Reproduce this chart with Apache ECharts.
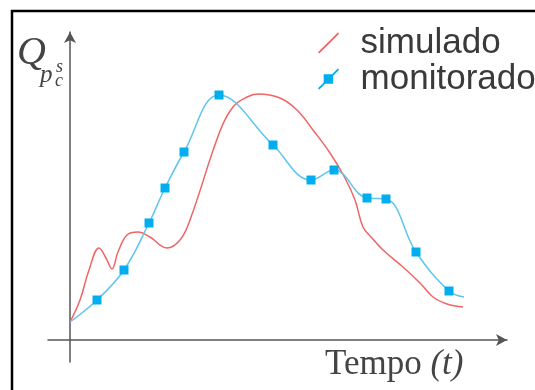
<!DOCTYPE html>
<html>
<head>
<meta charset="utf-8">
<script src="https://cdn.jsdelivr.net/npm/echarts@6/dist/echarts.min.js"></script>
<style>
html,body{margin:0;padding:0;background:#fff;}
#c{width:535px;height:390px;}
</style>
</head>
<body>
<div id="c"></div>
<script>
// Values (arbitrary units: time on x, Q on y)
const seriesNames = ['simulado', 'monitorado'];
const simT = [0, 10, 19, 29, 36, 42, 48, 57, 68, 80, 97, 110, 120, 150, 163, 177, 188, 210, 227, 243, 260, 275, 285, 293, 302, 313, 333, 350, 363, 377, 393];
const simQ = [18, 40, 70, 92, 82, 71, 88, 105, 108, 103, 92, 100, 120, 209, 233, 243, 246, 242, 230, 210, 187, 162, 140, 113, 102, 90, 73, 57, 43, 36, 33];
const monT = [0, 27, 54, 79, 95, 114, 149, 203, 241, 264, 297, 316, 346, 379, 394];
const monQ = [18, 40, 70, 117, 152, 188, 245, 195, 160, 170, 142, 141, 88, 49, 43];
// which monitored points are actual measurements (drawn with a marker)
const monMeasured = [false, true, true, true, true, true, true, true, true, true, true, true, true, true, false];

const chart = echarts.init(document.getElementById('c'), null, {renderer: 'canvas'});
const axisColor = '#555';
const redColor = '#f06464';
const blueLine = '#5cc6ee';
const blueMark = '#00aeef';

const option = {
  animation: false,
  backgroundColor: '#fff',
  grid: {left: 48, right: 28, top: 32, bottom: 28},
  xAxis: {
    type: 'value', min: -22, max: 437,
    axisLine: {show: true, onZero: true, symbol: ['none', 'arrow'], symbolSize: [9, 11],
      lineStyle: {color: axisColor, width: 1.5}},
    axisTick: {show: false}, axisLabel: {show: false}, splitLine: {show: false}
  },
  yAxis: {
    type: 'value', min: -22, max: 308,
    axisLine: {show: true, onZero: true, symbol: ['none', 'arrow'], symbolSize: [9, 11],
      lineStyle: {color: axisColor, width: 1.5}},
    axisTick: {show: false}, axisLabel: {show: false}, splitLine: {show: false}
  },
  legend: {
    orient: 'vertical', left: 313, top: 20, itemGap: 0,
    itemWidth: 22, itemHeight: 21,
    textStyle: {fontFamily: 'Liberation Sans, Arial, sans-serif', fontSize: 35, color: '#3a3a3a',
      padding: [0, 0, 0, 16], lineHeight: 36},
    data: [
      {name: seriesNames[0], icon: 'path://M0,21 L21,0 L22.4,1.2 L1.4,22.2 Z'},
      {name: seriesNames[1], icon: 'path://M0,21 L21,0 L22.4,1.2 L1.4,22.2 Z M6,6 L16,6 L16,16 L6,16 Z'}
    ]
  },
  series: [
    {
      name: seriesNames[0], type: 'line', smooth: 0.4, showSymbol: false, symbol: 'none',
      itemStyle: {color: redColor}, lineStyle: {color: redColor, width: 1.5},
      data: simT.map((t, i) => [t, simQ[i]])
    },
    {
      name: seriesNames[1], type: 'line', smooth: 0.4, symbol: 'rect', symbolSize: 9, showAllSymbol: true,
      itemStyle: {color: blueMark}, lineStyle: {color: blueLine, width: 1.5},
      data: monT.map((t, i) => monMeasured[i] ? [t, monQ[i]] : {value: [t, monQ[i]], symbol: 'none'})
    }
  ],
  graphic: [
    {type: 'polyline', shape: {points: [[12, 392], [12, 11], [537, 11]]},
      style: {stroke: '#000', lineWidth: 2.5, fill: null}},
    {type: 'text', left: 17, top: 33,
      style: {text: 'Q', font: 'italic 40px "Liberation Serif", "Times New Roman", serif', fill: '#444'}},
    {type: 'text', left: 40, top: 63,
      style: {text: 'p', font: 'italic 25px "Liberation Serif", "Times New Roman", serif', fill: '#444'}},
    {type: 'text', left: 56, top: 58,
      style: {text: 's', font: 'italic 18px "Liberation Serif", "Times New Roman", serif', fill: '#444'}},
    {type: 'text', left: 55, top: 72,
      style: {text: 'c', font: 'italic 18px "Liberation Serif", "Times New Roman", serif', fill: '#444'}},
    {type: 'text', left: 325, top: 347,
      style: {text: '{a|Tempo }{b|(t)}', rich: {
        a: {fontFamily: 'Liberation Serif, Times New Roman, serif', fontSize: 35, fill: '#444', color: '#444'},
        b: {fontFamily: 'Liberation Serif, Times New Roman, serif', fontSize: 35, fontStyle: 'italic', fill: '#444', color: '#444'}
      }}}
  ]
};
chart.setOption(option);
</script>
</body>
</html>
